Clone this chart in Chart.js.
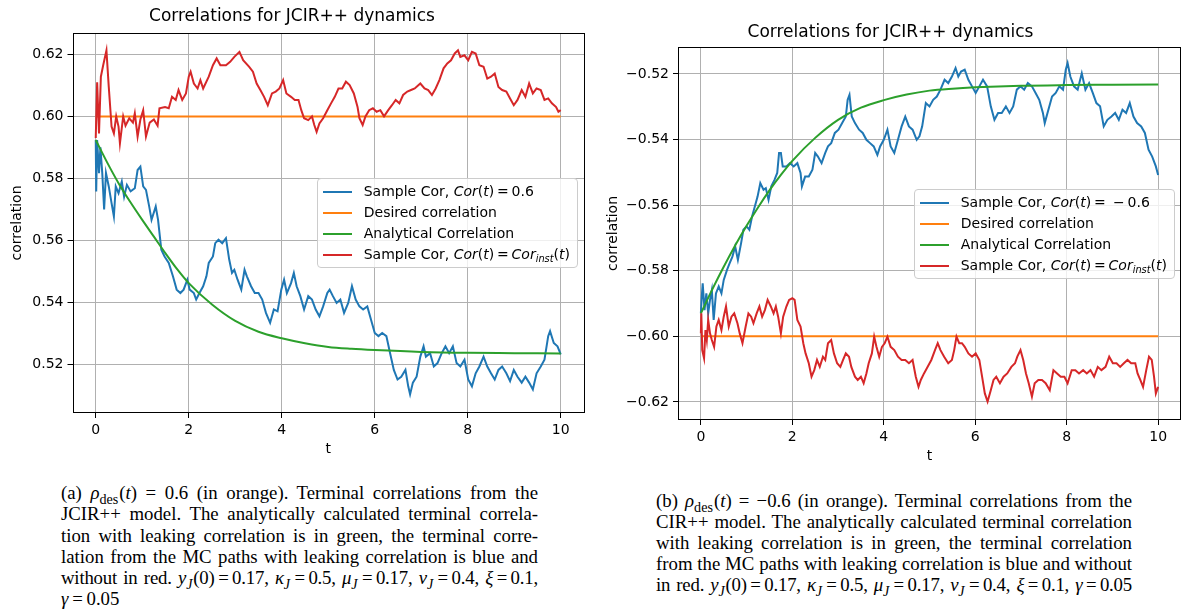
<!DOCTYPE html>
<html lang="en">
<head>
<meta charset="utf-8">
<title>Correlations for JCIR++ dynamics</title>
<script src="https://cdn.jsdelivr.net/npm/chart.js@4.4.1/dist/chart.umd.min.js"></script>
<style>
    html, body { margin: 0; padding: 0; background: #fff; }
    body { position: relative; width: 1183px; height: 612px; overflow: hidden; }
    .panel { position: absolute; }
    .panel canvas { display: block; }
    .legend {
        position: absolute;
        font-family: "DejaVu Sans", sans-serif;
        font-size: 14px;
        line-height: 21px;
        color: #000;
        background: rgba(255, 255, 255, 0.8);
        border: 1px solid #cccccc;
        border-radius: 4px;
        padding: 2px 7px 2px 5px;
        white-space: nowrap;
    }
    .legend .swatch {
        display: inline-block;
        width: 29px;
        height: 0;
        border-top: 2px solid;
        margin-right: 12px;
        vertical-align: middle;
    }
    .legend sub { font-size: 70%; vertical-align: -0.35em; line-height: 0; }
    .caption {
        position: absolute;
        font-family: "Liberation Serif", serif;
        font-size: 18.8px;
        color: #000;
    }
    .caption div { white-space: nowrap; text-align: justify; text-align-last: justify; }
    .caption div.last { text-align-last: left; }
    .caption div.tight { letter-spacing: -0.2px; }
    .caption sub { font-size: 75%; vertical-align: -0.35em; line-height: 0; margin-right: 1px; }
</style>
</head>
<body>

<div class="panel" style="left:0;top:0;width:600px;height:460px;">
    <canvas id="chartA" width="600" height="460"></canvas>
    <div class="legend" id="legendA"></div>
</div>

<div class="panel" style="left:600px;top:0;width:583px;height:467px;">
    <canvas id="chartB" width="583" height="467"></canvas>
    <div class="legend" id="legendB"></div>
</div>

<div class="caption" style="left:61px;top:482px;width:477px;line-height:21.3px;">
    <div>(a) <i>ρ</i><sub>des</sub>(<i>t</i>) = 0.6 (in orange). Terminal correlations from the</div>
    <div>JCIR++ model. The analytically calculated terminal correla-</div>
    <div>tion with leaking correlation is in green, the terminal corre-</div>
    <div>lation from the MC paths with leaking correlation is blue and</div>
    <div class="tight">without in red. <i>y<sub>J</sub></i>(0)&thinsp;=&thinsp;0.17, <i>κ<sub>J</sub></i>&thinsp;=&thinsp;0.5, <i>μ<sub>J</sub></i>&thinsp;=&thinsp;0.17, <i>ν<sub>J</sub></i>&thinsp;=&thinsp;0.4, <i>ξ</i>&thinsp;=&thinsp;0.1,</div>
    <div class="last"><i>γ</i>&thinsp;=&thinsp;0.05</div>
</div>

<div class="caption" style="left:656px;top:490px;width:476px;line-height:21.1px;">
    <div>(b) <i>ρ</i><sub>des</sub>(<i>t</i>) = −0.6 (in orange). Terminal correlations from the</div>
    <div>CIR++ model. The analytically calculated terminal correlation</div>
    <div>with leaking correlation is in green, the terminal correlation</div>
    <div>from the MC paths with leaking correlation is blue and without</div>
    <div class="tight">in red. <i>y<sub>J</sub></i>(0)&thinsp;=&thinsp;0.17, <i>κ<sub>J</sub></i>&thinsp;=&thinsp;0.5, <i>μ<sub>J</sub></i>&thinsp;=&thinsp;0.17, <i>ν<sub>J</sub></i>&thinsp;=&thinsp;0.4, <i>ξ</i>&thinsp;=&thinsp;0.1, <i>γ</i>&thinsp;=&thinsp;0.05</div>
</div>

<script>
// Axis ticks shared by both panels
const tTicks = [0, 2, 4, 6, 8, 10];
const yTicksA = [0.52, 0.54, 0.56, 0.58, 0.60, 0.62];
const yTicksB = [-0.62, -0.60, -0.58, -0.56, -0.54, -0.52];

// Panel (a): [t, correlation]
const blueA = [
    [0, 0.5924], [0.01, 0.5758], [0.03, 0.5924], [0.07, 0.5817], [0.10, 0.590], [0.14, 0.5817],
    [0.18, 0.570], [0.22, 0.5817], [0.28, 0.5774], [0.34, 0.572], [0.39, 0.5677], [0.43, 0.5774],
    [0.49, 0.5752], [0.56, 0.579], [0.61, 0.5741], [0.67, 0.5779], [0.75, 0.5758], [0.84, 0.5768],
    [0.90, 0.5827], [0.96, 0.5838], [1.02, 0.5774], [1.08, 0.5763], [1.15, 0.5709], [1.20, 0.5666],
    [1.29, 0.5709], [1.34, 0.5666], [1.41, 0.557], [1.48, 0.5548], [1.57, 0.5527], [1.66, 0.5484],
    [1.74, 0.5441], [1.82, 0.543], [1.89, 0.5441], [1.97, 0.5473], [2.02, 0.5441], [2.11, 0.543],
    [2.16, 0.5409], [2.23, 0.543], [2.31, 0.5452], [2.38, 0.5484], [2.43, 0.5527], [2.52, 0.5548],
    [2.57, 0.5591], [2.64, 0.5602], [2.72, 0.5591], [2.80, 0.5607], [2.87, 0.5538], [2.93, 0.5495],
    [2.98, 0.5505], [3.05, 0.5473], [3.13, 0.5441], [3.20, 0.5505], [3.25, 0.5484], [3.34, 0.5452],
    [3.42, 0.543], [3.50, 0.543], [3.58, 0.5409], [3.66, 0.5366], [3.75, 0.5334], [3.83, 0.5377],
    [3.91, 0.5371], [3.99, 0.5441], [4.05, 0.5473], [4.11, 0.543], [4.20, 0.5462], [4.26, 0.5495],
    [4.32, 0.5452], [4.40, 0.542], [4.48, 0.5377], [4.57, 0.542], [4.65, 0.5409], [4.73, 0.5377],
    [4.81, 0.5355], [4.89, 0.5387], [4.98, 0.543], [5.03, 0.5441], [5.10, 0.542], [5.18, 0.5398],
    [5.26, 0.5409], [5.34, 0.5366], [5.43, 0.5398], [5.51, 0.5452], [5.59, 0.5409], [5.67, 0.5387],
    [5.75, 0.5377], [5.84, 0.5387], [5.92, 0.5344], [6.00, 0.5301], [6.08, 0.5291], [6.16, 0.5301],
    [6.25, 0.5291], [6.33, 0.5236], [6.41, 0.5182], [6.49, 0.5151], [6.57, 0.516], [6.66, 0.5182],
    [6.72, 0.5129], [6.76, 0.5103], [6.82, 0.5141], [6.90, 0.516], [6.98, 0.5225], [7.05, 0.5258],
    [7.10, 0.5225], [7.19, 0.5236], [7.27, 0.5193], [7.35, 0.5204], [7.44, 0.5236], [7.52, 0.5258],
    [7.60, 0.5236], [7.68, 0.5258], [7.76, 0.5204], [7.84, 0.5193], [7.93, 0.5215], [8.01, 0.5151],
    [8.09, 0.5129], [8.17, 0.5171], [8.25, 0.5193], [8.34, 0.5225], [8.42, 0.5193], [8.50, 0.5171],
    [8.58, 0.5151], [8.66, 0.5182], [8.74, 0.5193], [8.83, 0.5171], [8.91, 0.5146], [8.99, 0.5182],
    [9.07, 0.516], [9.16, 0.5141], [9.24, 0.516], [9.32, 0.5141], [9.40, 0.5119], [9.48, 0.5171],
    [9.57, 0.5193], [9.65, 0.5215], [9.73, 0.5291], [9.77, 0.5307], [9.85, 0.5269], [9.93, 0.5258],
    [10.0, 0.5232]
];
const desiredA = [[0, 0.6], [10, 0.6]];
const greenA = [
    [0, 0.5924], [0.25, 0.5850], [0.5, 0.5782], [0.75, 0.5722], [1, 0.5666], [1.25, 0.5612],
    [1.5, 0.5558], [1.75, 0.5507], [2, 0.5462], [2.5, 0.5393], [3, 0.5340], [3.5, 0.5305],
    [4, 0.5284], [4.5, 0.5268], [5, 0.5256], [5.5, 0.5250], [6, 0.5246], [7, 0.5240],
    [8, 0.5237], [9, 0.5236], [10, 0.5235]
];
const redA = [
    [0, 0.593], [0.03, 0.611], [0.07, 0.5945], [0.11, 0.6128], [0.16, 0.6165], [0.23, 0.6213],
    [0.28, 0.6095], [0.34, 0.5967], [0.39, 0.5945], [0.44, 0.600], [0.49, 0.5967], [0.52, 0.5913],
    [0.59, 0.600], [0.64, 0.597], [0.72, 0.5994], [0.80, 0.598], [0.84, 0.601], [0.90, 0.5935],
    [0.96, 0.599], [1.02, 0.602], [1.08, 0.5935], [1.16, 0.598], [1.25, 0.599], [1.33, 0.597],
    [1.37, 0.6026], [1.49, 0.603], [1.57, 0.6026], [1.64, 0.6063], [1.72, 0.6053], [1.78, 0.6085],
    [1.86, 0.6053], [1.94, 0.6074], [2.00, 0.6128], [2.04, 0.6144], [2.11, 0.6106], [2.19, 0.609],
    [2.25, 0.6117], [2.31, 0.609], [2.43, 0.6128], [2.52, 0.6165], [2.60, 0.6187], [2.68, 0.6165],
    [2.80, 0.6165], [2.89, 0.6176], [2.98, 0.6192], [3.09, 0.6208], [3.17, 0.6181], [3.30, 0.616],
    [3.38, 0.6144], [3.46, 0.6106], [3.54, 0.6085], [3.62, 0.6063], [3.70, 0.6036], [3.79, 0.6074],
    [3.87, 0.608], [3.95, 0.609], [4.03, 0.6117], [4.10, 0.6074], [4.20, 0.6063], [4.28, 0.6053],
    [4.36, 0.6053], [4.42, 0.602], [4.48, 0.5994], [4.57, 0.5988], [4.65, 0.600], [4.70, 0.5972],
    [4.75, 0.595], [4.81, 0.5977], [4.89, 0.5994], [4.98, 0.602], [5.06, 0.6042], [5.14, 0.6063],
    [5.22, 0.609], [5.30, 0.609], [5.38, 0.6112], [5.46, 0.6101], [5.55, 0.6074], [5.63, 0.603],
    [5.67, 0.5994], [5.74, 0.5972], [5.80, 0.600], [5.88, 0.602], [5.96, 0.6026], [6.04, 0.6015],
    [6.12, 0.602], [6.20, 0.600], [6.29, 0.602], [6.37, 0.6036], [6.45, 0.6053], [6.53, 0.6042],
    [6.61, 0.6069], [6.70, 0.608], [6.78, 0.6085], [6.86, 0.609], [6.98, 0.6106], [7.07, 0.609],
    [7.15, 0.6085], [7.23, 0.6069], [7.31, 0.609], [7.39, 0.6117], [7.48, 0.6155], [7.56, 0.6171],
    [7.64, 0.6181], [7.72, 0.6203], [7.79, 0.6213], [7.84, 0.6192], [7.93, 0.6197], [8.01, 0.6181],
    [8.09, 0.6208], [8.17, 0.6203], [8.25, 0.6165], [8.34, 0.616], [8.42, 0.6122], [8.50, 0.6128],
    [8.58, 0.6138], [8.66, 0.6095], [8.74, 0.6085], [8.83, 0.608], [8.91, 0.6058], [8.99, 0.6036],
    [9.07, 0.6053], [9.16, 0.6085], [9.24, 0.6063], [9.32, 0.6106], [9.40, 0.6074], [9.48, 0.609],
    [9.57, 0.6085], [9.65, 0.6053], [9.73, 0.6058], [9.81, 0.6042], [9.90, 0.603], [9.95, 0.6015],
    [10.0, 0.602]
];

// Panel (b)
const blueB = [
    [0, -0.593], [0.02, -0.5879], [0.04, -0.5838], [0.08, -0.592], [0.12, -0.5869], [0.16, -0.593],
    [0.20, -0.5889], [0.24, -0.5859], [0.28, -0.595], [0.33, -0.5869], [0.39, -0.5848], [0.45, -0.5869],
    [0.50, -0.5828], [0.57, -0.5798], [0.63, -0.5777], [0.69, -0.5757], [0.75, -0.5726], [0.81, -0.5767],
    [0.88, -0.5716], [0.93, -0.5675], [1.00, -0.5665], [1.06, -0.5675], [1.12, -0.5635], [1.18, -0.5604],
    [1.24, -0.5574], [1.30, -0.5533], [1.37, -0.5553], [1.42, -0.5548], [1.48, -0.5584], [1.54, -0.5543],
    [1.61, -0.5523], [1.67, -0.5502], [1.71, -0.5441], [1.75, -0.5441], [1.79, -0.5482], [1.87, -0.5482],
    [1.95, -0.5472], [2.03, -0.5482], [2.11, -0.5472], [2.18, -0.5502], [2.21, -0.5543], [2.28, -0.5513],
    [2.36, -0.5513], [2.44, -0.5492], [2.50, -0.5441], [2.56, -0.5452], [2.64, -0.5472], [2.72, -0.5441],
    [2.78, -0.5421], [2.85, -0.5411], [2.93, -0.538], [3.01, -0.537], [3.09, -0.535], [3.17, -0.533],
    [3.21, -0.5279], [3.25, -0.5264], [3.30, -0.533], [3.37, -0.535], [3.46, -0.537], [3.54, -0.538],
    [3.62, -0.5401], [3.70, -0.5411], [3.78, -0.5421], [3.86, -0.5447], [3.92, -0.5421], [4.00, -0.5401],
    [4.08, -0.537], [4.15, -0.5421], [4.23, -0.5441], [4.31, -0.5401], [4.39, -0.536], [4.47, -0.533],
    [4.55, -0.536], [4.63, -0.537], [4.72, -0.5401], [4.78, -0.539], [4.84, -0.536], [4.92, -0.5289],
    [5.00, -0.5299], [5.08, -0.5279], [5.16, -0.5269], [5.24, -0.5248], [5.33, -0.5218], [5.41, -0.5228],
    [5.49, -0.5208], [5.57, -0.5182], [5.63, -0.5208], [5.69, -0.5193], [5.77, -0.5187], [5.85, -0.5218],
    [5.93, -0.5238], [6.01, -0.5258], [6.09, -0.5238], [6.17, -0.5218], [6.26, -0.5238], [6.34, -0.5299],
    [6.42, -0.534], [6.50, -0.5319], [6.58, -0.5319], [6.67, -0.5299], [6.75, -0.5319], [6.83, -0.5299],
    [6.91, -0.5248], [6.99, -0.5238], [7.07, -0.5248], [7.15, -0.5228], [7.24, -0.5238], [7.32, -0.5258],
    [7.40, -0.5279], [7.48, -0.5319], [7.52, -0.535], [7.60, -0.5309], [7.68, -0.5269], [7.76, -0.5258],
    [7.84, -0.5238], [7.92, -0.5248], [7.98, -0.5187], [8.02, -0.5167], [8.08, -0.5208], [8.16, -0.5238],
    [8.24, -0.5248], [8.33, -0.5198], [8.41, -0.5248], [8.49, -0.5228], [8.57, -0.5258], [8.65, -0.5289],
    [8.73, -0.5299], [8.81, -0.536], [8.89, -0.534], [8.98, -0.533], [9.06, -0.5319], [9.14, -0.534],
    [9.22, -0.5309], [9.30, -0.5319], [9.38, -0.5289], [9.46, -0.533], [9.54, -0.535], [9.63, -0.536],
    [9.71, -0.538], [9.79, -0.5431], [9.87, -0.5452], [9.95, -0.5482], [10.0, -0.5508]
];
const desiredB = [[0, -0.6], [10, -0.6]];
const greenB = [
    [0, -0.5930], [0.25, -0.5857], [0.5, -0.5788], [0.75, -0.5723], [1, -0.5663], [1.25, -0.5607],
    [1.5, -0.5555], [1.75, -0.5508], [2, -0.5465], [2.5, -0.5395], [3, -0.5340], [3.5, -0.5303],
    [4, -0.5280], [4.5, -0.5263], [5, -0.5251], [5.5, -0.5245], [6, -0.5241], [7, -0.5236],
    [8, -0.5234], [9, -0.5233], [10, -0.5232]
];
const redB = [
    [0, -0.5991], [0.01, -0.593], [0.03, -0.6042], [0.07, -0.6067], [0.10, -0.5981], [0.13, -0.6011],
    [0.16, -0.595], [0.20, -0.5991], [0.24, -0.6011], [0.29, -0.6032], [0.34, -0.597], [0.39, -0.595],
    [0.45, -0.5981], [0.50, -0.594], [0.55, -0.5909], [0.61, -0.597], [0.67, -0.594], [0.73, -0.593],
    [0.80, -0.596], [0.85, -0.5991], [0.91, -0.6021], [0.98, -0.597], [1.04, -0.593], [1.10, -0.594],
    [1.15, -0.596], [1.22, -0.593], [1.28, -0.5909], [1.34, -0.594], [1.40, -0.592], [1.46, -0.5889],
    [1.53, -0.5909], [1.59, -0.593], [1.64, -0.5909], [1.69, -0.594], [1.75, -0.5991], [1.80, -0.594],
    [1.87, -0.5909], [1.93, -0.5889], [2.00, -0.5884], [2.05, -0.5889], [2.11, -0.595], [2.18, -0.597],
    [2.24, -0.6021], [2.29, -0.6052], [2.36, -0.6082], [2.42, -0.6123], [2.48, -0.6103], [2.54, -0.6072],
    [2.60, -0.6093], [2.67, -0.6062], [2.72, -0.6072], [2.78, -0.6021], [2.85, -0.6011], [2.91, -0.6052],
    [2.98, -0.6082], [3.05, -0.6093], [3.11, -0.6072], [3.17, -0.6052], [3.24, -0.6062], [3.29, -0.6093],
    [3.37, -0.6123], [3.43, -0.6133], [3.50, -0.6123], [3.56, -0.6143], [3.62, -0.6113], [3.67, -0.6082],
    [3.74, -0.6052], [3.79, -0.6001], [3.84, -0.6032], [3.90, -0.6062], [3.96, -0.6032], [4.02, -0.6021],
    [4.08, -0.6001], [4.15, -0.6032], [4.23, -0.6042], [4.31, -0.6062], [4.39, -0.6072], [4.47, -0.6072],
    [4.55, -0.6082], [4.63, -0.6072], [4.70, -0.6123], [4.76, -0.6154], [4.81, -0.6133], [4.88, -0.6113],
    [4.96, -0.6093], [5.04, -0.6072], [5.12, -0.6042], [5.18, -0.6021], [5.24, -0.6042], [5.32, -0.6062],
    [5.41, -0.6082], [5.49, -0.6072], [5.54, -0.6042], [5.59, -0.6001], [5.65, -0.6021], [5.71, -0.6021],
    [5.77, -0.6032], [5.85, -0.6052], [5.93, -0.6062], [6.01, -0.6052], [6.09, -0.6072], [6.15, -0.6123],
    [6.21, -0.6174], [6.27, -0.6199], [6.34, -0.6164], [6.40, -0.6133], [6.46, -0.6123], [6.54, -0.6143],
    [6.62, -0.6123], [6.70, -0.6113], [6.79, -0.6093], [6.87, -0.6082], [6.92, -0.6062], [6.99, -0.6042],
    [7.05, -0.6072], [7.11, -0.6113], [7.17, -0.6143], [7.24, -0.6184], [7.30, -0.6143], [7.38, -0.6133],
    [7.46, -0.6133], [7.54, -0.6143], [7.63, -0.6164], [7.71, -0.6103], [7.79, -0.6113], [7.87, -0.6123],
    [7.95, -0.6123], [8.02, -0.6143], [8.11, -0.6103], [8.19, -0.6103], [8.27, -0.6113], [8.36, -0.6103],
    [8.44, -0.6113], [8.52, -0.6103], [8.60, -0.6123], [8.68, -0.6093], [8.76, -0.6103], [8.85, -0.6093],
    [8.93, -0.6062], [9.01, -0.6082], [9.09, -0.6082], [9.17, -0.6093], [9.25, -0.6082], [9.33, -0.6072],
    [9.41, -0.6082], [9.50, -0.6082], [9.55, -0.6113], [9.61, -0.6133], [9.67, -0.6154], [9.74, -0.6103],
    [9.80, -0.6062], [9.86, -0.6072], [9.91, -0.6123], [9.95, -0.6174], [10.0, -0.6154]
];

// Legend labels (shown as HTML so the math can be italic)
const legendA = [
    'Sample Cor, <i>Cor</i>(<i>t</i>)&thinsp;=&thinsp;0.6',
    'Desired correlation',
    'Analytical Correlation',
    'Sample Cor, <i>Cor</i>(<i>t</i>)&thinsp;=&thinsp;<i>Cor</i><sub><i>inst</i></sub>(<i>t</i>)'
];
const legendB = [
    'Sample Cor, <i>Cor</i>(<i>t</i>)&thinsp;=&thinsp; &minus;&thinsp;0.6',
    'Desired correlation',
    'Analytical Correlation',
    'Sample Cor, <i>Cor</i>(<i>t</i>)&thinsp;=&thinsp;<i>Cor</i><sub><i>inst</i></sub>(<i>t</i>)'
];

const colors = ['#1f77b4', '#ff7f0e', '#2ca02c', '#d62728'];
const tickFont = { family: 'DejaVu Sans', size: 14 };

// Black frame around the plot area, drawn over the lines like matplotlib spines
const framePlugin = {
    id: 'frame',
    afterDatasetsDraw(chart) {
        const a = chart.chartArea;
        const ctx = chart.ctx;
        ctx.save();
        ctx.strokeStyle = '#000';
        ctx.lineWidth = 1;
        ctx.strokeRect(Math.round(a.left) + 0.5, Math.round(a.top) + 0.5,
            Math.round(a.right - a.left) - 1, Math.round(a.bottom - a.top) - 1);
        ctx.restore();
    }
};

// HTML legend placed at the right-centre of the plot area
const htmlLegendPlugin = {
    id: 'htmlLegend',
    afterRender(chart, args, opts) {
        const box = document.getElementById(opts.containerID);
        if (box.dataset.done) return;
        box.dataset.done = '1';
        opts.labels.forEach(function (html, i) {
            const ds = chart.data.datasets[i];
            const row = document.createElement('div');
            const swatch = document.createElement('span');
            swatch.className = 'swatch';
            swatch.style.borderTopColor = ds.borderColor;
            const text = document.createElement('span');
            text.innerHTML = html;
            row.appendChild(swatch);
            row.appendChild(text);
            box.appendChild(row);
        });
        const a = chart.chartArea;
        box.style.right = (chart.width - a.right + 6) + 'px';
        box.style.top = ((a.top + a.bottom) / 2 - box.offsetHeight / 2) + 'px';
    }
};

function toPoints(pairs) {
    return pairs.map(p => ({ x: p[0], y: p[1] }));
}

function makeDataset(label, color, pairs, order, smooth) {
    return {
        label: label,
        data: toPoints(pairs),
        borderColor: color,
        backgroundColor: color,
        borderWidth: 2,
        pointRadius: 0,
        fill: false,
        order: order,
        cubicInterpolationMode: smooth ? 'monotone' : 'default'
    };
}

function fmtTick(v) {
    return v.toFixed(2).replace('-', '\u2212');
}

function buildChart(canvasId, legendId, series, labels, yMin, yMax, yTicks, lay) {
    const ctx = document.getElementById(canvasId).getContext('2d');
    return new Chart(ctx, {
        type: 'line',
        data: {
            datasets: [
                makeDataset('Sample Cor', colors[0], series[0], 3, false),
                makeDataset('Desired correlation', colors[1], series[1], 2, false),
                makeDataset('Analytical Correlation', colors[2], series[2], 1, true),
                makeDataset('Sample Cor inst', colors[3], series[3], 0, false)
            ]
        },
        options: {
            responsive: false,
            animation: false,
            events: [],
            layout: { padding: { left: 0, right: lay.padRight, top: 0, bottom: 0 } },
            plugins: {
                legend: { display: false },
                tooltip: { enabled: false },
                title: {
                    display: true,
                    text: 'Correlations for JCIR++ dynamics',
                    color: '#000',
                    font: { family: 'DejaVu Sans', size: 17, weight: 'normal' },
                    padding: { top: lay.titleTop, bottom: lay.titleBottom }
                },
                htmlLegend: { containerID: legendId, labels: labels }
            },
            scales: {
                x: {
                    type: 'linear',
                    min: -0.5,
                    max: 10.5,
                    afterBuildTicks: s => { s.ticks = tTicks.map(v => ({ value: v })); },
                    afterFit: s => { s.height = lay.xHeight; },
                    ticks: { color: '#000', font: tickFont, padding: 4, maxRotation: 0, autoSkip: false,
                        callback: v => String(v) },
                    grid: { color: '#b0b0b0', lineWidth: 1, tickColor: '#000', tickLength: 5 },
                    border: { display: false },
                    title: { display: true, text: 't', color: '#000', font: tickFont, padding: { top: 0, bottom: 2 } }
                },
                y: {
                    type: 'linear',
                    min: yMin,
                    max: yMax,
                    afterBuildTicks: s => { s.ticks = yTicks.map(v => ({ value: v })); },
                    afterFit: s => { s.width = lay.yWidth; },
                    ticks: { color: '#000', font: tickFont, padding: 4, autoSkip: false, callback: fmtTick },
                    grid: { color: '#b0b0b0', lineWidth: 1, tickColor: '#000', tickLength: 5 },
                    border: { display: false },
                    title: { display: true, text: 'correlation', color: '#000', font: tickFont,
                        padding: { top: lay.yTitlePad, bottom: 0 } }
                }
            }
        },
        plugins: [framePlugin, htmlLegendPlugin]
    });
}

document.addEventListener('DOMContentLoaded', function () {
    buildChart('chartA', 'legendA', [blueA, desiredA, greenA, redA], legendA,
        0.5043, 0.6269, yTicksA,
        { padRight: 16, titleTop: 6, titleBottom: 6.6, xHeight: 47, yWidth: 72.5, yTitlePad: 9 });

    buildChart('chartB', 'legendB', [blueB, desiredB, greenB, redB], legendB,
        -0.6255, -0.5118, yTicksB,
        { padRight: 2, titleTop: 22, titleBottom: 4.6, xHeight: 47, yWidth: 78, yTitlePad: 4.6 });
});
</script>
</body>
</html>
